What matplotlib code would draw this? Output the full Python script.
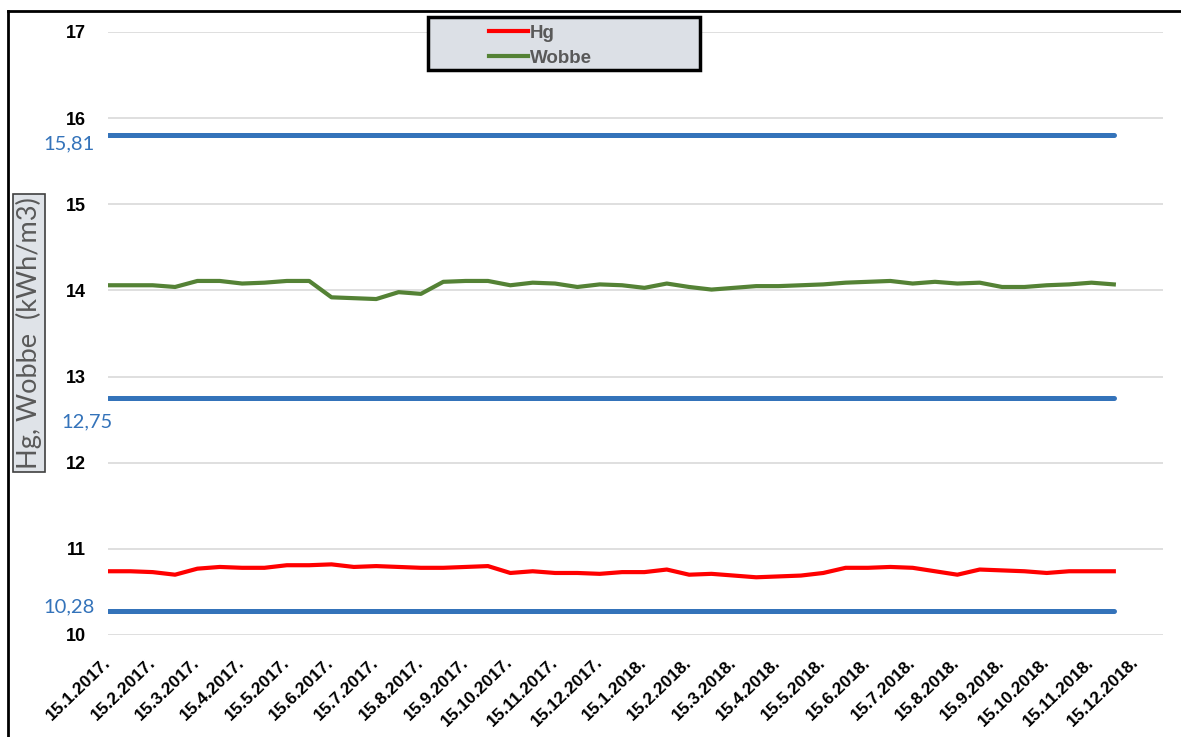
import matplotlib
matplotlib.use("Agg")
import matplotlib.pyplot as plt
from matplotlib.lines import Line2D
from matplotlib.patches import Rectangle
from matplotlib.font_manager import FontProperties

# Podaci (polumjesečno mjerenje)
hg = [10.74, 10.74, 10.73, 10.70, 10.77, 10.79, 10.78, 10.78, 10.81, 10.81,
      10.82, 10.79, 10.80, 10.79, 10.78, 10.78, 10.79, 10.80, 10.72, 10.74,
      10.72, 10.72, 10.71, 10.73, 10.73, 10.76, 10.70, 10.71, 10.69, 10.67,
      10.68, 10.69, 10.72, 10.78, 10.78, 10.79, 10.78, 10.74, 10.70, 10.76,
      10.75, 10.74, 10.72, 10.74, 10.74, 10.74]
wobbe = [14.06, 14.06, 14.06, 14.04, 14.11, 14.11, 14.08, 14.09, 14.11, 14.11,
         13.92, 13.91, 13.90, 13.98, 13.96, 14.10, 14.11, 14.11, 14.06, 14.09,
         14.08, 14.04, 14.07, 14.06, 14.03, 14.08, 14.04, 14.01, 14.03, 14.05,
         14.05, 14.06, 14.07, 14.09, 14.10, 14.11, 14.08, 14.10, 14.08, 14.09,
         14.04, 14.04, 14.06, 14.07, 14.09, 14.07]
granice = [15.81, 12.75, 10.28]
granice_txt = ["15,81", "12,75", "10,28"]
datumi = ["15.%d.%d." % (m, g) for g in (2017, 2018) for m in range(1, 13)]
y_oznake = [str(v) for v in range(10, 18)]

x = list(range(len(hg)))

plt.rcParams['font.family'] = ['Lato', 'DejaVu Sans']
fp_y = FontProperties(family='Liberation Sans', weight='bold', size=13)
fp_x = FontProperties(family='Liberation Sans', weight='bold', size=12.5)
fp_leg = FontProperties(family='Liberation Sans', weight='bold', size=13.5)

fig = plt.figure(figsize=(11.81, 7.37), dpi=100)
W, H = 1181, 737
ax = fig.add_axes([108 / W, 1 - 635 / H, (1163 - 108) / W, (635 - 32) / H])

plava = '#3473BA'
for g in granice:
    ax.plot([x[0], x[-1]], [g, g], color=plava, lw=3.6, solid_capstyle='round', zorder=3)
ax.plot(x, hg, color='#FF0000', lw=3, label='Hg', zorder=4)
ax.plot(x, wobbe, color='#548235', lw=3, label='Wobbe', zorder=4)

# oznake granica
pomaci = [(-13, -9), (5, -24), (-13, 4)]
for g, t, (dx, dy) in zip(granice, granice_txt, pomaci):
    ax.annotate(t, xy=(0, g), xytext=(dx, dy), textcoords='offset pixels',
                ha='right', va='center', color=plava, fontsize=14.5,
                annotation_clip=False)

ax.set_xlim(0, 47.2)
ax.set_ylim(10, 17)
ax.tick_params(axis='x', length=0, pad=18)
ax.tick_params(axis='y', length=0, pad=16)
ax.set_yticks(range(10, 18))
ax.set_yticklabels(y_oznake, fontproperties=fp_y)
ax.set_xticks(range(0, 48, 2))
ax.set_xticklabels(datumi, rotation=44, ha='right', va='center',
                   rotation_mode='anchor', fontproperties=fp_x)
ax.grid(axis='y', color='#D9D9D9', lw=1.2)
ax.set_axisbelow(True)
for s in ax.spines.values():
    s.set_visible(False)

# legenda u okviru
okvir = Rectangle((428 / W, 1 - 70 / H), 272 / W, 53 / H, transform=fig.transFigure,
                  facecolor='#DCE0E6', edgecolor='black', lw=2.5, zorder=5)
fig.add_artist(okvir)
leg = fig.legend(loc='upper left', bbox_to_anchor=(472 / W, 1 - 8 / H), frameon=False,
                 handlelength=2.1, handletextpad=0.1, labelspacing=0.4, prop=fp_leg)
leg.set_zorder(6)
for t in leg.get_texts():
    t.set_color('#595959')

# naslov osi y
fig.text(29 / W, 1 - 333 / H, "Hg, Wobbe  (kWh/m3)", rotation=90, ha='center', va='center',
         fontsize=19.5, color='#595959',
         bbox=dict(boxstyle='square,pad=0.1', facecolor='#DFE3E8', edgecolor='#404040', lw=1.2))

# okvir grafa (gore i lijevo)
fig.add_artist(Line2D([8 / W, 1], [1 - 11 / H, 1 - 11 / H], color='black', lw=2))
fig.add_artist(Line2D([8 / W, 8 / W], [0, 1 - 11 / H], color='black', lw=2))

fig.savefig("out.png", dpi=100)
plt.close(fig)
